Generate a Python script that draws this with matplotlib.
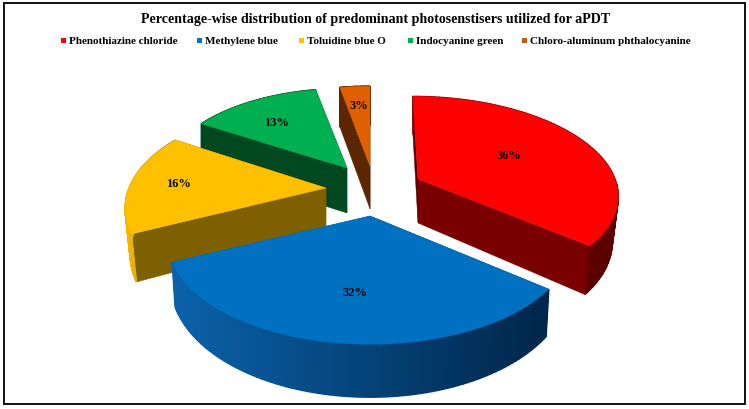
import numpy as np
import matplotlib
matplotlib.use("Agg")
import matplotlib.pyplot as plt
from matplotlib.patches import Polygon, Rectangle
from matplotlib.colors import to_rgb

title = "Percentage-wise distribution of predominant photosenstisers utilized for aPDT"
names = ["Phenothiazine chloride", "Methylene blue", "Toluidine blue O",
         "Indocyanine green", "Chloro-aluminum phthalocyanine"]
shares = [36, 32, 16, 13, 3]

colors = ["#ff0000", "#0070c0", "#ffc000", "#00b050", "#e05f00"]
side_start = ["#5a0000", "#00264a", "#7f6000", "#00481f", "#5c2600"]
side_end = ["#7a0000", "#0a62ab", "#7f6000", "#00481f", "#5c2600"]
rim_left = ["#7a0000", "#0a62ab", "#f2b600", "#00481f", "#5c2600"]
rim_right = ["#5a0000", "#00264a", "#a67c00", "#00481f", "#5c2600"]

# apex x, apex y, a, b, perspective, skew, depth, shrink of the lower edge
shape = [(418, 180, 197, 95, 0.15, 6, 44, 0.03),
         (370, 217, 196, 97, 0.244, 0, 40, 0.015),
         (326, 189, 197, 99, 0.196, 0, 44, 0.025),
         (347, 169, 180, 86, 0.08, 0, 45, 0.0),
         (370, 167, 175, 87, 0.09, 0, 43, 0.0)]
label_xy = [(509, 156), (355, 293), (178, 184), (277, 123), (359, 106)]
legend_x = [61, 197, 299, 408, 522]

serif = "Liberation Serif"


def project(s, th, r=1.0, drop=0.0):
    ax0, ay0, a, b, p, sk, d, shr = s
    X = r * np.sin(th)
    Y = -r * np.cos(th)
    w = 1 - p * Y
    return np.column_stack([ax0 + (a * X + sk * Y) / w * (1 - drop * shr),
                            ay0 + (b * Y + drop * d) / w])


fig = plt.figure(figsize=(7.49, 4.10), dpi=100)
ax = fig.add_axes([0, 0, 1, 1])
ax.set_xlim(0, 749)
ax.set_ylim(410, 0)
ax.axis("off")

ends = np.cumsum(shares) / np.sum(shares) * 2 * np.pi
starts = np.concatenate([[0], ends[:-1]])

# back slices first, blue goes last because it covers yellow
for i in [4, 3, 2, 0, 1]:
    s = shape[i]
    th = np.linspace(starts[i], ends[i], 90)
    top = project(s, th)
    low = project(s, th, drop=1.0)

    # cut faces
    apex_top = project(s, np.array([0.0]), r=0.0)[0]
    apex_low = project(s, np.array([0.0]), r=0.0, drop=1.0)[0]
    ax.add_patch(Polygon([apex_top, top[0], low[0], apex_low], closed=True,
                         fc=side_start[i], ec=side_start[i], lw=0.3))
    ax.add_patch(Polygon([apex_top, top[-1], low[-1], apex_low], closed=True,
                         fc=side_end[i], ec=side_end[i], lw=0.3))

    # outer wall, thin strips shaded across the screen
    xs = top[:, 0]
    c0 = np.array(to_rgb(rim_left[i]))
    c1 = np.array(to_rgb(rim_right[i]))
    for k in range(len(th) - 1):
        t = (xs[k] - xs.min()) / max(xs.max() - xs.min(), 1)
        quad = [top[k], top[k + 1], low[k + 1], low[k]]
        ax.add_patch(Polygon(quad, closed=True, fc=c0 + (c1 - c0) * t, ec=c0 + (c1 - c0) * t, lw=1.0))

    ax.add_patch(Polygon(np.vstack([apex_top, top]), closed=True,
                         fc=colors[i], ec=colors[i], lw=0.3))

for i, v in enumerate(shares):
    ax.text(label_xy[i][0], label_xy[i][1], str(v) + "%", family=serif, weight="bold",
            fontsize=9, ha="center", va="center", color="#0a0a0a")

ax.text(375.5, 20, title, family=serif, weight="bold", fontsize=10.05,
        ha="center", va="center", color="black")

for i, n in enumerate(names):
    ax.add_patch(Rectangle((legend_x[i], 39), 4.5, 5, fc=colors[i] if i < 4 else "#c55a11", ec="none"))
    ax.text(legend_x[i] + 8, 41.5, n, family=serif, weight="bold", fontsize=8.0,
            ha="left", va="center", color="black")

# frame around the whole chart
ax.add_patch(Rectangle((4, 4), 741, 401, fc="none", ec="#111111", lw=1.4))

fig.savefig("out.png", dpi=100)
